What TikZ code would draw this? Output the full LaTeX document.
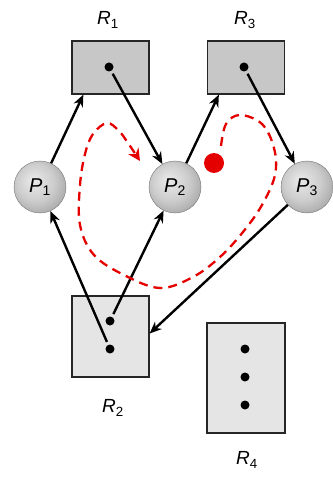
\documentclass[tikz,border=0pt]{standalone}
\usepackage{fontspec}
\setmainfont{Liberation Sans}
\usetikzlibrary{arrows.meta}
\pgfdeclareradialshading{procball}{\pgfpoint{-7bp}{7bp}}{%
  color(0bp)=(black!8); color(18bp)=(black!20); color(34bp)=(black!38); color(50bp)=(black!45)}

\begin{document}
\begin{tikzpicture}[
  x=1pt, y=-1pt,
  res/.style       = {draw=black!85, line width=1.3pt, inner sep=0pt, minimum width=77pt},
  held/.style      = {res, fill=black!22, minimum height=53pt},
  free/.style      = {res, fill=black!10},
  proc/.style      = {circle, draw=black!55, thin, shading=procball,
                      minimum size=52pt, inner sep=0pt, font=\fontsize{20}{20}\selectfont},
  unit/.style      = {circle, fill, inner sep=0pt, minimum size=9pt},
  rlabel/.style    = {font=\fontsize{19}{19}\selectfont},
  arrow/.style     = {line width=2.4pt, -{Stealth[length=12pt,width=10pt]}},
  waitloop/.style  = {red!90!black, line width=2.3pt, dash pattern=on 9pt off 6pt,
                      -{Stealth[length=12pt,width=12pt]}},
]
  \useasboundingbox (0,0) rectangle (332,478);

  \node[held] (r1) at (110.5,67.5) {};
  \node[held] (r3) at (246,67.5) {};
  \node[free, minimum height=81pt] (r2) at (110.5,336.5) {};
  \node[free, minimum width=78pt, minimum height=110pt] (r4) at (246,378) {};

  \node[unit] (r1a) at (109,67) {};
  \node[unit] (r3a) at (244,67) {};
  \node[unit] (r2a) at (110,321) {};
  \node[unit] (r2b) at (110,349) {};
  \node[unit] (r4a) at (245,349) {};
  \node[unit] (r4b) at (245,377) {};
  \node[unit] (r4c) at (245,405) {};

  \node[rlabel] (r1l) at (108,20) {\textit{R}\textsubscript{1}};
  \node[rlabel] (r3l) at (245,20) {\textit{R}\textsubscript{3}};
  \node[rlabel] (r2l) at (113,408) {\textit{R}\textsubscript{2}};
  \node[rlabel] (r4l) at (247,460) {\textit{R}\textsubscript{4}};

  \node[proc] (p1) at (40,187) {\textit{P}\textsubscript{1}};
  \node[proc] (p2) at (175,187) {\textit{P}\textsubscript{2}};
  \node[proc] (p3) at (307,187) {\textit{P}\textsubscript{3}};

  % requests
  \draw[arrow] (p1) -- ([xshift=12pt]r1.south west);
  \draw[arrow] (p2) -- ([xshift=12pt]r3.south west);
  \draw[arrow] (p3) -- ([yshift=3pt]r2.east);
  % assignments
  \draw[arrow, shorten <=3pt] (r1a) -- (p2);
  \draw[arrow, shorten <=3pt] (r3a) -- (p3);
  \draw[arrow, shorten <=3pt] (r2a) -- (p2);
  \draw[arrow, shorten <=3pt] (r2b) -- (p1);

  % the cycle
  \draw[waitloop] plot[smooth, tension=0.6] coordinates {
    (221,146) (226,124) (240,115) (262,124) (274,148) (275,175) (262,205)
    (243,232) (220,257) (193,277) (160,288) (124,275) (94,255) (80,225)
    (80,185) (85,154) (93,134) (107,123) (119,131) (128,143) (140,161)};
  \node[circle, fill=red!90!black, minimum size=20pt, inner sep=0pt] (mark) at (214,163) {};
\end{tikzpicture}
\end{document}
